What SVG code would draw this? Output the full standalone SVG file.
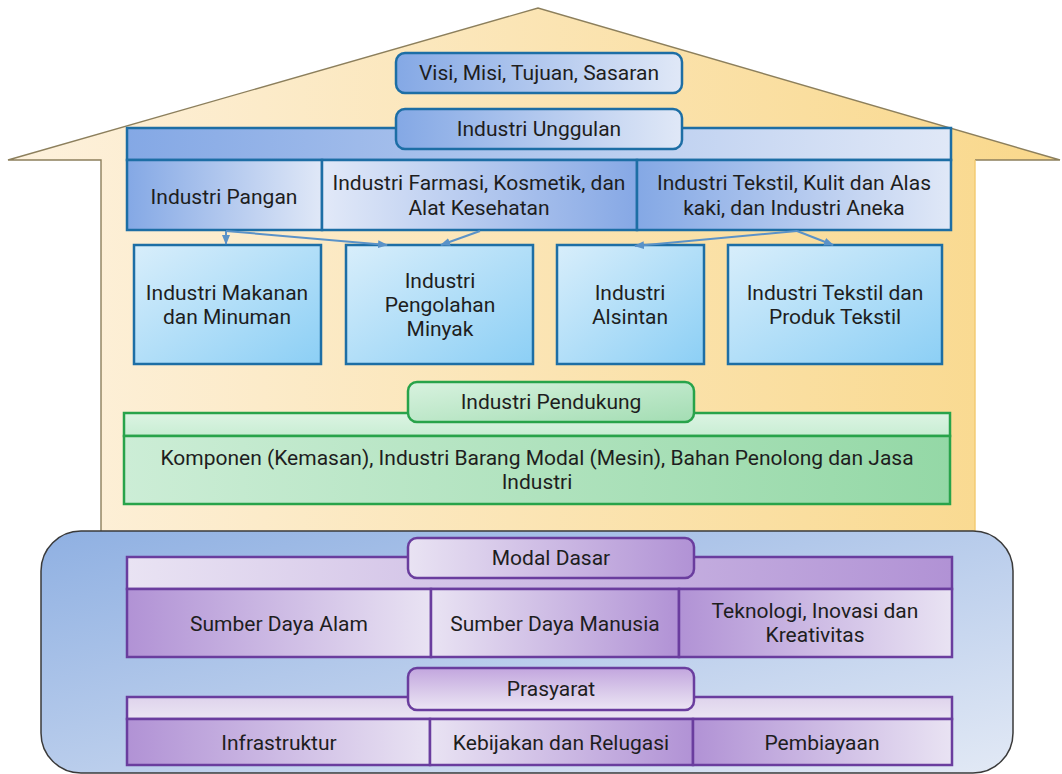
<svg xmlns="http://www.w3.org/2000/svg" width="1062" height="774" viewBox="0 0 1062 774">
<defs>
<linearGradient id="gHouse" x1="0" y1="0" x2="1" y2="0"><stop offset="0" stop-color="#fdf1dd"/><stop offset="1" stop-color="#f9d88b"/></linearGradient>
<linearGradient id="gBlueLR" x1="0" y1="0" x2="1" y2="0"><stop offset="0" stop-color="#84a8e5"/><stop offset="1" stop-color="#e0e8f7"/></linearGradient>
<linearGradient id="gBlueRL" x1="0" y1="0" x2="1" y2="0"><stop offset="0" stop-color="#e2e9f8"/><stop offset="1" stop-color="#86a8e5"/></linearGradient>
<linearGradient id="gSky" x1="0" y1="0" x2="1" y2="1"><stop offset="0" stop-color="#d8eefb"/><stop offset="1" stop-color="#8ccff5"/></linearGradient>
<linearGradient id="gGreenLabel" x1="0" y1="0" x2="1" y2="1"><stop offset="0" stop-color="#d8f2df"/><stop offset="1" stop-color="#a3ddb3"/></linearGradient>
<linearGradient id="gGreenStrip" x1="0" y1="0" x2="0" y2="1"><stop offset="0" stop-color="#dcf4e3"/><stop offset="1" stop-color="#c8edd3"/></linearGradient>
<linearGradient id="gGreenCell" x1="0" y1="0" x2="1" y2="0"><stop offset="0" stop-color="#ccedd6"/><stop offset="1" stop-color="#94d8a6"/></linearGradient>
<linearGradient id="gPurpLR" x1="0" y1="0" x2="1" y2="0"><stop offset="0" stop-color="#b192d5"/><stop offset="1" stop-color="#e9e3f3"/></linearGradient>
<linearGradient id="gPurpRL" x1="0" y1="0" x2="1" y2="0"><stop offset="0" stop-color="#e9e3f3"/><stop offset="1" stop-color="#b192d5"/></linearGradient>
<linearGradient id="gPurpV" x1="0" y1="0" x2="0" y2="1"><stop offset="0" stop-color="#c2a6de"/><stop offset="1" stop-color="#ece6f4"/></linearGradient>
<linearGradient id="gPurpStrip2" x1="0" y1="0" x2="0" y2="1"><stop offset="0" stop-color="#ded3ec"/><stop offset="1" stop-color="#ebe5f3"/></linearGradient>
<linearGradient id="gBase" x1="0" y1="0" x2="1" y2="1"><stop offset="0" stop-color="#8fb0e2"/><stop offset="1" stop-color="#e2e9f5"/></linearGradient>
<marker id="arr" markerWidth="10" markerHeight="8" refX="9" refY="4" orient="auto" markerUnits="userSpaceOnUse"><path d="M0,0 L10,4 L0,8 z" fill="#5a92c8"/></marker>
<style>
text{font-family:Roboto,"Liberation Sans",sans-serif;font-size:21px;fill:#1e1e1e;text-anchor:middle}
.bl{stroke:#1d6ea5;stroke-width:2.5}
.gr{stroke:#28a34a;stroke-width:2.5}
.pu{stroke:#6a3d9e;stroke-width:2.5}
.ln{fill:none}
.con{stroke:#5a92c8;stroke-width:2;fill:none;marker-end:url(#arr)}
</style>
</defs>

<g id="house">
<path d="M8,160 L538,8 L1060,160 L975,160 L975,531 L101,531 L101,160 Z" fill="url(#gHouse)"/>
<path d="M101,531 L101,160 L8,160 L538,8 L1060,160 L975,160" fill="none" stroke="#8c7f5c" stroke-width="1.4"/>
<path d="M975,160 L975,531" fill="none" stroke="#f2c96f" stroke-width="1.4"/>
</g>

<g id="visi">
<rect class="bl" x="396" y="53" width="286" height="40" rx="9" fill="url(#gBlueLR)"/>
<text x="539" y="80">Visi, Misi, Tujuan, Sasaran</text>
</g>

<g id="unggulan">
<rect class="bl" x="127" y="128" width="824" height="32" fill="url(#gBlueLR)"/>
<rect class="bl" x="127" y="160" width="195" height="70" fill="url(#gBlueLR)"/>
<rect class="bl" x="322" y="160" width="315" height="70" fill="url(#gBlueRL)"/>
<rect class="bl" x="637" y="160" width="314" height="70" fill="url(#gBlueLR)"/>
<rect class="bl" x="396" y="109" width="286" height="40" rx="9" fill="url(#gBlueLR)"/>
<text x="539" y="136">Industri Unggulan</text>
</g>
<g id="pangan"><text x="224" y="204">Industri Pangan</text></g>
<g id="farmasi"><text x="479" y="190">Industri Farmasi, Kosmetik, dan</text><text x="479" y="215">Alat Kesehatan</text></g>
<g id="tekstil-aneka"><text x="794" y="190">Industri Tekstil, Kulit dan Alas</text><text x="794" y="215">kaki, dan Industri Aneka</text></g>

<g id="makanan">
<rect class="bl" x="134" y="245" width="187" height="119" fill="url(#gSky)"/>
<text x="227" y="300">Industri Makanan</text><text x="227" y="324">dan Minuman</text>
</g>
<g id="minyak">
<rect class="bl" x="346" y="245" width="187" height="119" fill="url(#gSky)"/>
<text x="440" y="288">Industri</text><text x="440" y="312">Pengolahan</text><text x="440" y="336">Minyak</text>
</g>
<g id="alsintan">
<rect class="bl" x="557" y="245" width="147" height="119" fill="url(#gSky)"/>
<text x="630" y="300">Industri</text><text x="630" y="324">Alsintan</text>
</g>
<g id="tpt">
<rect class="bl" x="728" y="245" width="214" height="119" fill="url(#gSky)"/>
<text x="835" y="300">Industri Tekstil dan</text><text x="835" y="324">Produk Tekstil</text>
</g>

<g id="connectors">
<path class="con" d="M226,231 L226,244"/>
<path class="con" d="M226,231 L387,245"/>
<path class="con" d="M480,231 L441,245"/>
<path class="con" d="M797,231 L635,246"/>
<path class="con" d="M797,231 L833,245"/>
</g>

<g id="pendukung">
<rect class="gr" x="124" y="413" width="826" height="23" fill="url(#gGreenStrip)"/>
<rect class="gr" x="124" y="436" width="826" height="68" fill="url(#gGreenCell)"/>
<rect class="gr" x="408" y="382" width="286" height="40" rx="9" fill="url(#gGreenLabel)"/>
<text x="551" y="409">Industri Pendukung</text>
<text x="537" y="465">Komponen (Kemasan), Industri Barang Modal (Mesin), Bahan Penolong dan Jasa</text>
<text x="537" y="489">Industri</text>
</g>

<g id="base">
<rect x="41" y="531" width="972" height="242" rx="40" fill="url(#gBase)" stroke="#3a3a3a" stroke-width="1.5"/>
</g>

<g id="modal-dasar">
<rect class="pu" x="127" y="557" width="825" height="32" fill="url(#gPurpRL)"/>
<rect class="pu" x="127" y="589" width="304" height="68" fill="url(#gPurpLR)"/>
<rect class="pu" x="431" y="589" width="248" height="68" fill="url(#gPurpRL)"/>
<rect class="pu" x="679" y="589" width="273" height="68" fill="url(#gPurpLR)"/>
<rect class="pu" x="408" y="538" width="286" height="40" rx="9" fill="url(#gPurpRL)"/>
<text x="551" y="565">Modal Dasar</text>
</g>
<g id="sda"><text x="279" y="631">Sumber Daya Alam</text></g>
<g id="sdm"><text x="555" y="631">Sumber Daya Manusia</text></g>
<g id="teknologi"><text x="815" y="618">Teknologi, Inovasi dan</text><text x="815" y="642">Kreativitas</text></g>

<g id="prasyarat">
<rect class="pu" x="127" y="697" width="825" height="22" fill="url(#gPurpStrip2)"/>
<rect class="pu" x="127" y="719" width="303" height="46" fill="url(#gPurpLR)"/>
<rect class="pu" x="430" y="719" width="263" height="46" fill="url(#gPurpRL)"/>
<rect class="pu" x="693" y="719" width="259" height="46" fill="url(#gPurpLR)"/>
<rect class="pu" x="408" y="668" width="286" height="42" rx="9" fill="url(#gPurpV)"/>
<text x="551" y="696">Prasyarat</text>
</g>
<g id="infrastruktur"><text x="279" y="750">Infrastruktur</text></g>
<g id="kebijakan"><text x="561" y="750">Kebijakan dan Relugasi</text></g>
<g id="pembiayaan"><text x="822" y="750">Pembiayaan</text></g>
</svg>
